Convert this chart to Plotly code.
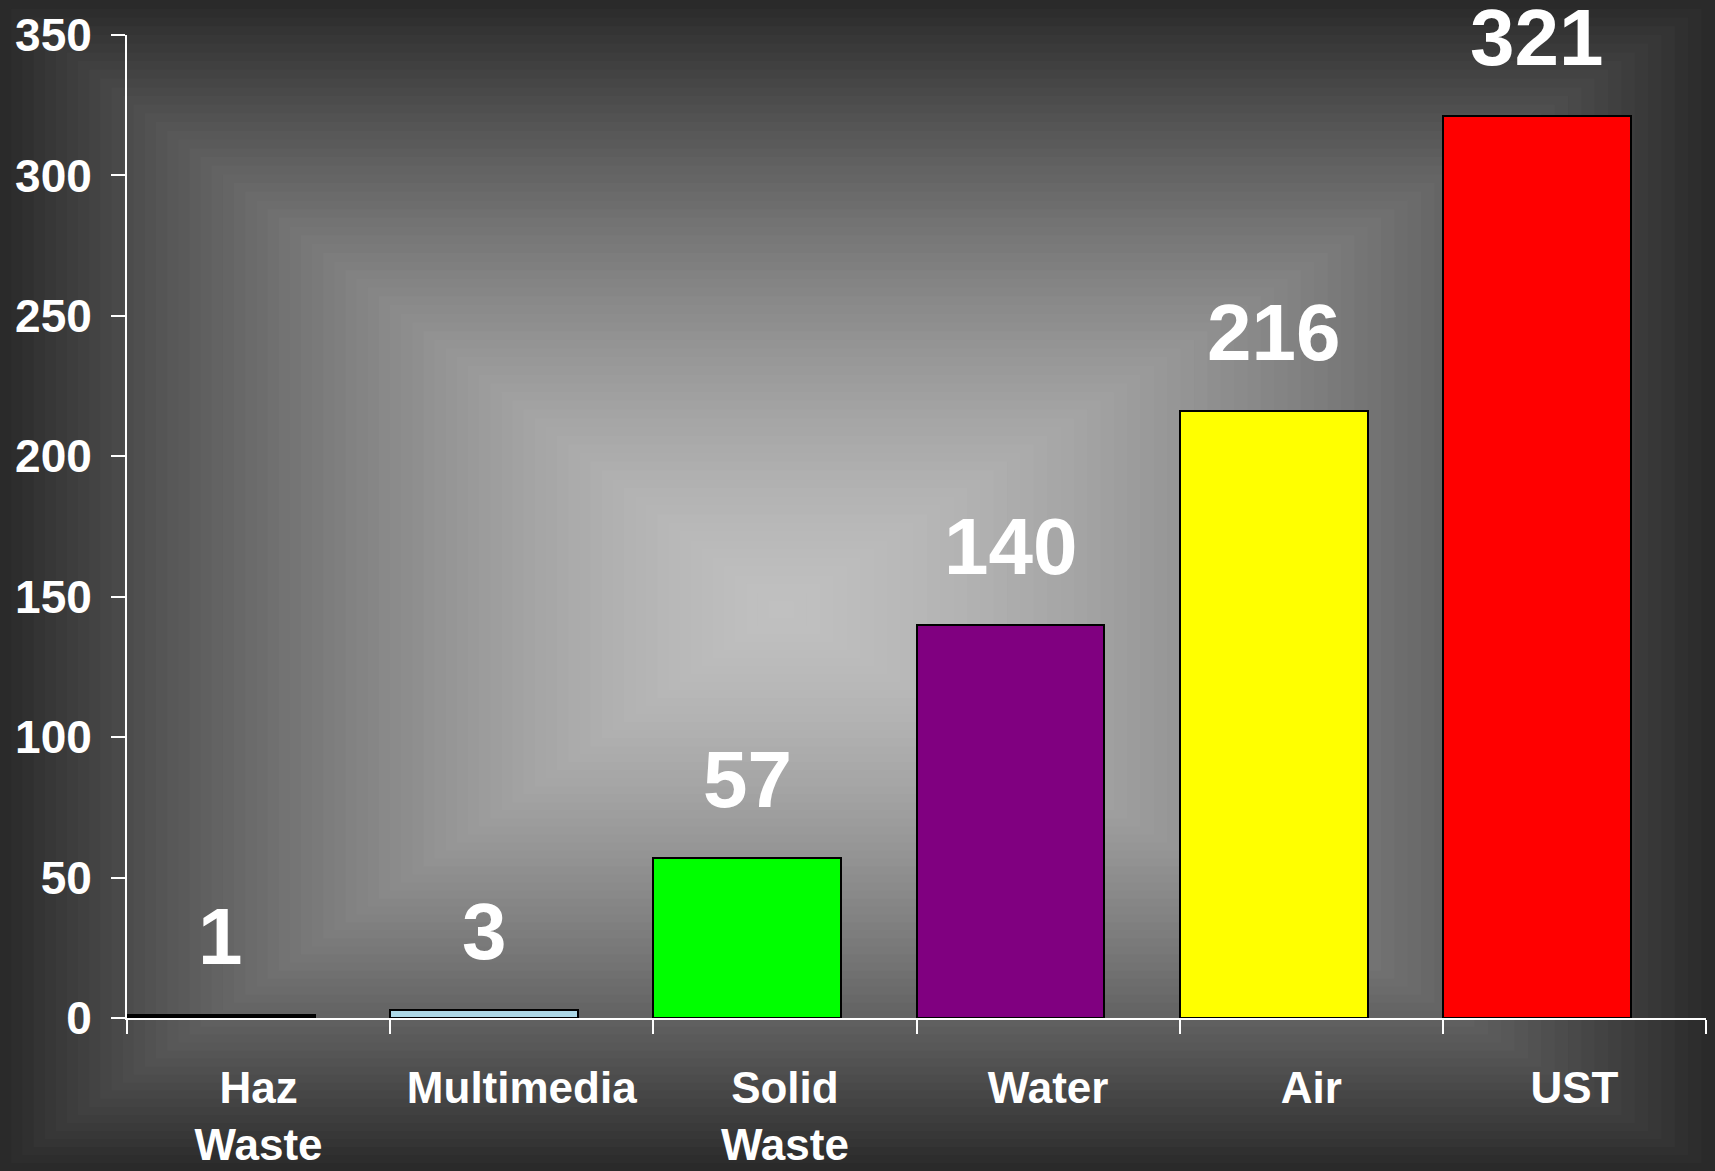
import plotly.graph_objects as go

# dados
categorias = ["Haz<br>Waste", "Multimedia", "Solid<br>Waste", "Water", "Air", "UST"]
valores = [1, 3, 57, 140, 216, 321]
cores = ["#000000", "#ADD8E6", "#00FF00", "#800080", "#FFFF00", "#FF0000"]
y_ticks = [0, 50, 100, 150, 200, 250, 300, 350]

W, H = 1715, 1171
ML, MR, MT, MB = 127, 9, 35, 153
BAR_W = 0.714  # barras alinhadas à esquerda da categoria

fig = go.Figure()

fig.add_trace(go.Bar(
    x=categorias, y=valores,
    width=BAR_W, offset=-0.5,
    marker=dict(color=cores, line=dict(color="black", width=2)),
    hoverinfo="x+y",
))

# rótulos acima das barras
for i, v in enumerate(valores):
    fig.add_annotation(
        x=i - 0.5 + BAR_W / 2, y=v, text=str(v),
        xref="x", yref="y", yanchor="bottom", showarrow=False, yshift=32,
        font=dict(family="Liberation Sans", size=80, color="white", weight="bold"),
    )

# fundo em degradê retangular (do centro para fora)
pw = W - ML - MR
ph = H - MT - MB
cx, cy = 780, 610
passos = 70
shapes = []
for k in range(passos, 0, -1):
    t = k / passos
    c = int(round(192 - 150 * t ** 1.5))
    x0 = cx - t * cx
    x1 = cx + t * (W - cx)
    y0 = cy - t * cy
    y1 = cy + t * (H - cy)
    shapes.append(dict(
        type="rect", xref="paper", yref="paper", layer="below",
        x0=(x0 - ML) / pw, x1=(x1 - ML) / pw,
        y0=(H - MB - y1) / ph, y1=(H - MB - y0) / ph,
        line=dict(width=0), fillcolor=f"rgb({c},{c},{c})",
    ))

fig.update_layout(
    width=W, height=H,
    margin=dict(l=ML, r=MR, t=MT, b=MB),
    paper_bgcolor="#2a2a2a", plot_bgcolor="rgba(0,0,0,0)",
    shapes=shapes, showlegend=False, bargap=0,
    font=dict(family="Liberation Sans", color="white", weight="bold"),
)

fig.update_xaxes(
    type="category", range=[-0.5, 5.5], automargin=False,
    showline=True, linecolor="white", linewidth=2,
    ticks="outside", tickson="boundaries", ticklen=14, tickwidth=2, tickcolor="white",
    tickfont=dict(size=44, color="white"), showgrid=False, zeroline=False,
    ticklabelstandoff=30,
)
fig.update_yaxes(
    range=[0, 350], tickvals=y_ticks, automargin=False,
    showline=True, linecolor="white", linewidth=2,
    ticks="outside", ticklen=14, tickwidth=2, tickcolor="white",
    tickfont=dict(size=46, color="white"), showgrid=False, zeroline=False,
    ticklabelstandoff=10,
)

fig.write_html("out.html", config={"displayModeBar": False},
               post_script="document.body.style.margin='0';document.body.style.overflow='hidden';")
